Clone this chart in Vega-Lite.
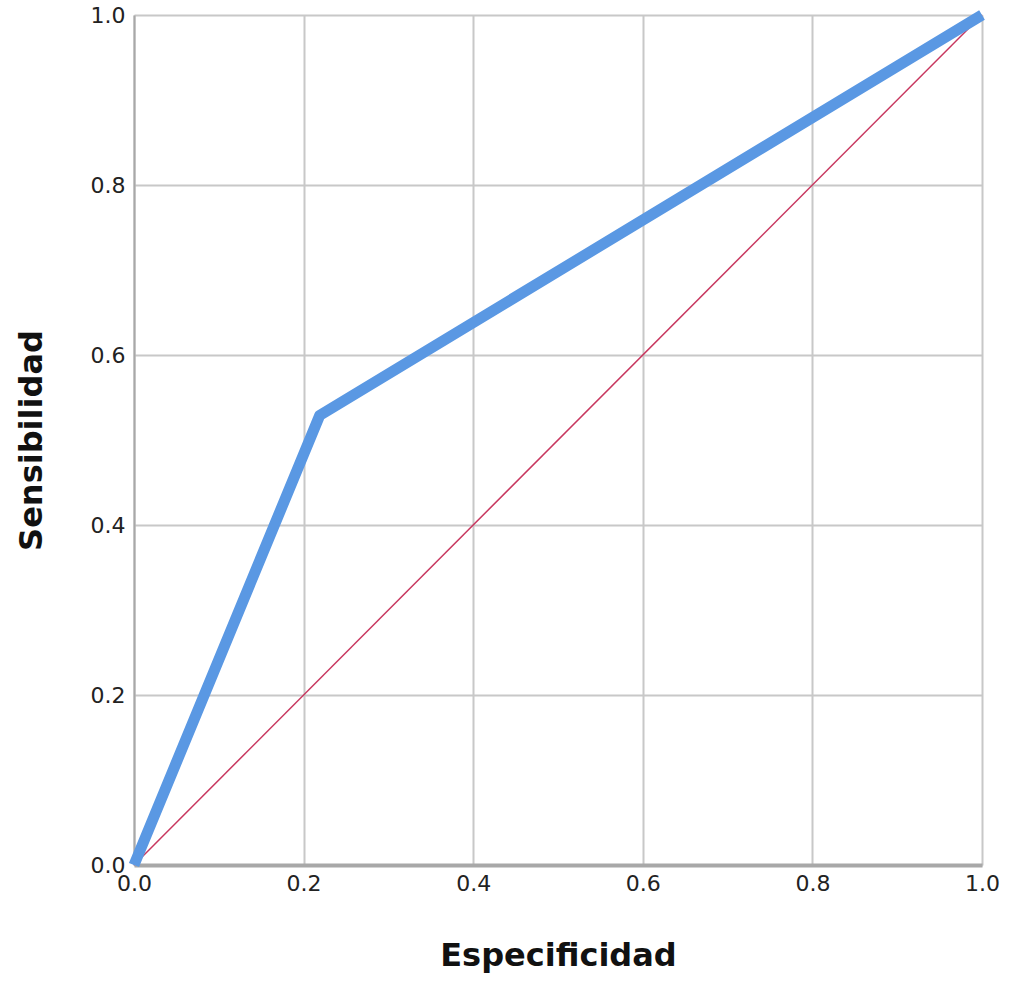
{
  "$schema": "https://vega.github.io/schema/vega-lite/v6.json",
  "autosize": "none",
  "width": 848,
  "height": 850,
  "padding": {"left": 134, "top": 15, "right": 28, "bottom": 116},
  "background": "white",
  "config": {
    "view": {"stroke": null},
    "axis": {
      "labelFont": "DejaVu Sans",
      "labelFontSize": 22,
      "labelColor": "#222",
      "titleFont": "DejaVu Sans",
      "titleFontWeight": "bold",
      "titleFontSize": 32,
      "titleColor": "#111",
      "gridColor": "#c8c8c8",
      "gridWidth": 2,
      "ticks": false,
      "domainColor": "#a8a8a8"
    }
  },
  "datasets": {
    "roc": [
      {"esp": 0.0, "sens": 0.0, "serie": "curva"},
      {"esp": 0.219, "sens": 0.529, "serie": "curva"},
      {"esp": 1.0, "sens": 1.0, "serie": "curva"}
    ],
    "ref": [
      {"esp": 0.0, "sens": 0.0, "serie": "referencia"},
      {"esp": 1.0, "sens": 1.0, "serie": "referencia"}
    ]
  },
  "layer": [
    {
      "data": {"name": "ref"},
      "mark": {"type": "line", "color": "#c8375f", "strokeWidth": 1.5},
      "encoding": {
        "x": {
          "field": "esp", "type": "quantitative",
          "scale": {"domain": [0, 1], "nice": false},
          "axis": {"title": "Especificidad", "format": ".1f", "values": [0, 0.2, 0.4, 0.6, 0.8, 1], "labelPadding": 8, "titlePadding": 46, "domainWidth": 4, "labelFlush": false}
        },
        "y": {
          "field": "sens", "type": "quantitative",
          "scale": {"domain": [0, 1], "nice": false},
          "axis": {"title": "Sensibilidad", "format": ".1f", "values": [0, 0.2, 0.4, 0.6, 0.8, 1], "labelPadding": 9, "titlePadding": 42, "domainWidth": 2, "labelFlush": false}
        }
      }
    },
    {
      "data": {"name": "roc"},
      "mark": {"type": "line", "color": "#5a98e3", "strokeWidth": 11, "strokeJoin": "round", "strokeCap": "butt"},
      "encoding": {
        "x": {"field": "esp", "type": "quantitative"},
        "y": {"field": "sens", "type": "quantitative"}
      }
    }
  ]
}
